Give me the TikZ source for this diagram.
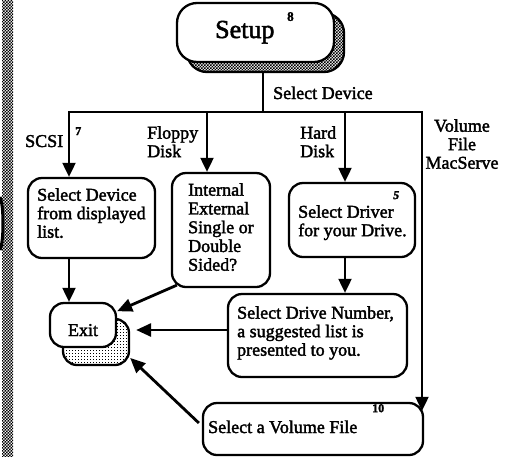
\documentclass[tikz,border=0pt]{standalone}
\usepackage{fontspec}
\setmainfont{Liberation Serif}[FakeBold=2]
\usetikzlibrary{arrows.meta,patterns,calc}
\pgfdeclarepatternformonly{checker}{\pgfqpoint{-0.1pt}{-0.1pt}}{\pgfqpoint{3.1pt}{3.1pt}}{\pgfqpoint{3pt}{3pt}}{%
  \pgfpathrectangle{\pgfpointorigin}{\pgfqpoint{1.5pt}{1.5pt}}%
  \pgfpathrectangle{\pgfqpoint{1.5pt}{1.5pt}}{\pgfqpoint{1.5pt}{1.5pt}}%
  \pgfusepath{fill}}
\pgfdeclarepatternformonly{lightdots}{\pgfqpoint{-0.1pt}{-0.1pt}}{\pgfqpoint{3.1pt}{3.1pt}}{\pgfqpoint{3pt}{3pt}}{%
  \pgfpathrectangle{\pgfpointorigin}{\pgfqpoint{0.9pt}{0.9pt}}%
  \pgfusepath{fill}}
\begin{document}
\begin{tikzpicture}[x=1pt,y=-1pt,
  box/.style={draw, line width=2.3pt, rounded corners=14pt, fill=white, inner sep=0pt},
  shadowbox/.style={draw, line width=2.3pt, rounded corners=14pt, inner sep=0pt},
  txt/.style={font=\fontsize{18}{18.5}\selectfont, align=left, anchor=north west, inner sep=0pt},
  lbl/.style={font=\fontsize{18}{18}\selectfont, inner sep=0pt},
  sup/.style={font=\fontsize{12}{12}\selectfont\bfseries, inner sep=0pt, anchor=north west},
  conn/.style={line width=2pt},
  arr/.style={line width=2pt, -{Triangle[length=14pt,width=13pt]}},
  arrT/.style={line width=2.8pt, -{Triangle[length=15pt,width=13pt]}}]
\useasboundingbox (0,0) rectangle (506,456);
% left strip
\fill[pattern=checker] (2,0) rectangle (13,456);
\draw[line width=3pt] (0,197) .. controls (4,205) and (4,242) .. (0,250);
% shadows
\node[shadowbox, pattern=checker, rounded corners=20pt, minimum width=157pt, minimum height=59pt] (setupsh) at (265.5,42.5) {};
\node[shadowbox, pattern=lightdots, minimum width=66pt, minimum height=46pt] (exitsh) at (96,342) {};
% boxes
\node[box, rounded corners=20pt, minimum width=157pt, minimum height=59pt] (setup) at (255.5,32.5) {};
\node[box, minimum width=127pt, minimum height=80pt] (scsi) at (91.5,218) {};
\node[box, minimum width=98pt, minimum height=114pt] (floppy) at (221,230) {};
\node[box, minimum width=126pt, minimum height=74pt] (hard) at (352,220) {};
\node[box, minimum width=179pt, minimum height=83pt] (drive) at (317.5,335.5) {};
\node[box, minimum width=66pt, minimum height=44pt] (exit) at (83,325) {};
\node[box, minimum width=220pt, minimum height=52pt] (volume) at (313,429) {};
% texts
\node[font=\fontsize{26}{26}\selectfont, anchor=base west, inner sep=0pt] (setupt) at (215,38) {Setup};
\node[sup, font=\fontsize{13}{13}\selectfont\bfseries] (s8) at (287,12) {8};
\node[lbl, anchor=base west] (seldev) at (273,99) {Select Device};
\node[lbl, anchor=base west] (scsil) at (25,147) {SCSI};
\node[sup] (s7) at (75,127) {7};
\node[txt, align=left] (floppyl) at (147,126) {Floppy\\Disk};
\node[txt, align=left] (hardl) at (300,126) {Hard\\Disk};
\node[txt, align=center, anchor=north] (voll) at (462,119) {Volume\\File\\MacServe};
\node[txt] (scsit) at (37,188) {Select Device\\from displayed\\list.};
\node[txt, font=\fontsize{18}{18.75}\selectfont] (floppyt) at (188,183) {Internal\\External\\Single or\\Double\\Sided?};
\node[txt] (hardt) at (298,205) {Select Driver\\for your Drive.};
\node[sup] (s5) at (393,191) {\itshape 5};
\node[txt] (drivet) at (237,306) {Select Drive Number,\\a suggested list is\\presented to you.};
\node[lbl, anchor=base] (exitt) at (83,336) {Exit};
\node[lbl, anchor=base west] (volt) at (208,433) {Select a Volume File};
\node[sup] (s10) at (372,404) {10};
% connectors
\coordinate (jT) at (263,112);
\coordinate (jL) at (69,112);
\coordinate (jF) at (207,112);
\coordinate (jH) at (345,112);
\coordinate (jR) at (422,112);
\draw[conn] (setupsh.south -| jT) -- (jT);
\draw[conn, line cap=rect] (jL) -- (jR);
\draw[arr] (jL) -- (jL |- scsi.north);
\draw[arr] (jF) -- (jF |- floppy.north);
\draw[arr] (jH) -- (jH |- hard.north);
\draw[arr] (jR) -- ($(jR |- volume.north)+(0,9)$);
\draw[arr] (hard.south -| jH) -- (drive.north -| jH);
\draw[arr] (scsi.south -| jL) -- (exit.north -| jL);
\draw[arrT] ($(floppy.south west)+(6,-3)$) -- (exit.22);
\draw[arrT] ($(drive.west)+(0,-5.5)$) -- ($(exitsh.east |- drive.west)+(6,-5.5)$);
\draw[arrT] ($(volume.west)+(-3,-6)$) -- (exitsh.-25);
\end{tikzpicture}
\end{document}
